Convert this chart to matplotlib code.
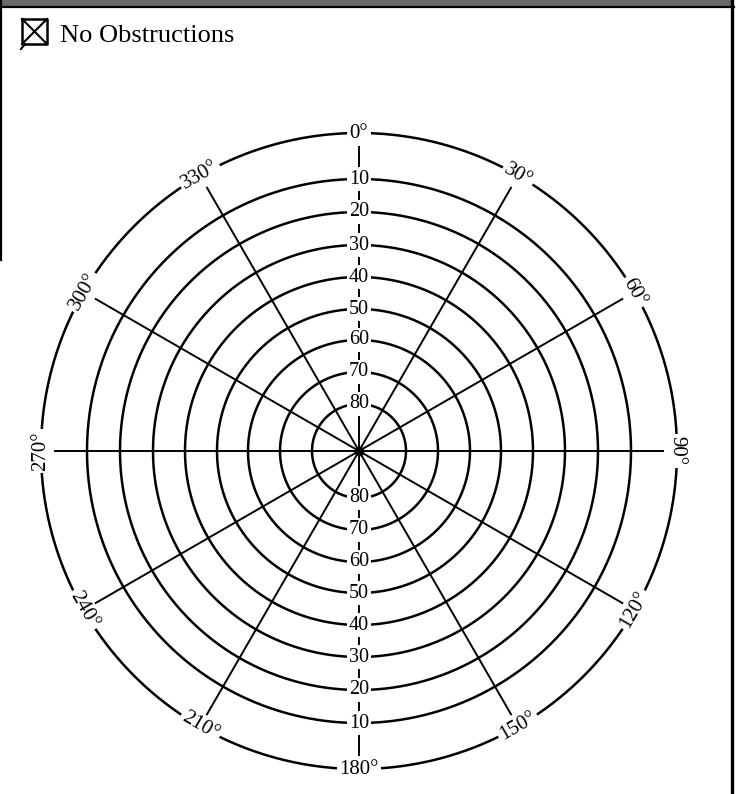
import numpy as np
import matplotlib
matplotlib.use("Agg")
import matplotlib.pyplot as plt

# ── Data ────────────────────────────────────────────────────────────────────
azimuths = [0, 30, 60, 90, 120, 150, 180, 210, 240, 270, 300, 330]
az_labels = [f"{a}°" for a in azimuths]
elevations = [80, 70, 60, 50, 40, 30, 20, 10]
ring_radius = [47, 79, 111, 142, 174, 206, 239, 272]   # radius of each elevation ring
outer_radius = 318                                     # horizon ring (0°)
spoke_radius = 304
legend_text = "No Obstructions"

W, H = 744, 794
CX, CY = 359, 451          # centre of the plot in pixels
RMAX = 335

plt.rcParams['font.family'] = ['Liberation Serif', 'DejaVu Serif']

fig = plt.figure(figsize=(W / 100, H / 100), dpi=100)

# page overlay (frame, check box, caption)
page = fig.add_axes([0, 0, 1, 1])
page.set_xlim(0, W)
page.set_ylim(H, 0)
page.axis("off")
page.fill_between([0, W - 10], 0, 6, color="#6a6a6a", lw=0)
page.plot([0, W - 10], [6.5, 6.5], color="black", lw=1.6)
page.plot([731.5, 731.5], [0, H], color="black", lw=2.4)
page.plot([1, 1], [0, 260], color="black", lw=1.6)

# check box with a cross
bx0, by0, bs = 22, 19, 25
page.plot([bx0, bx0 + bs, bx0 + bs, bx0, bx0], [by0, by0, by0 + bs, by0 + bs, by0],
          color="black", lw=1.8)
page.plot([bx0, bx0 + bs], [by0, by0 + bs], color="black", lw=1.5)
page.plot([bx0, bx0 + bs], [by0 + bs, by0], color="black", lw=1.5)
page.plot([bx0 + 3, bx0 - 1], [by0 + bs, by0 + bs + 5], color="black", lw=1.5)
page.text(60, 36, legend_text, fontsize=19, va="center", ha="left")

# polar sky plot, one data unit = one pixel
ax = fig.add_axes([(CX - RMAX) / W, (H - CY - RMAX) / H, 2 * RMAX / W, 2 * RMAX / H],
                  projection="polar")
ax.set_theta_zero_location("N")
ax.set_theta_direction(-1)
ax.set_rlim(0, RMAX)
ax.axis("off")

theta = np.linspace(0, 2 * np.pi, 721)
for r in ring_radius:
    ax.plot(theta, np.full_like(theta, r), color="black", lw=1.8, zorder=2)
ax.plot(theta, np.full_like(theta, outer_radius), color="black", lw=1.8, zorder=2)

for a in azimuths:
    t = np.deg2rad(a)
    ax.plot([t, t], [0, spoke_radius], color="black", lw=1.4, zorder=2)
ax.plot([0], [0], marker="o", ms=6, color="black", zorder=3)

box = dict(boxstyle="square,pad=0.12", fc="white", ec="none")

# elevation labels along the north and south spokes
for el, r in zip(elevations, ring_radius):
    for a in (0, 180):
        ax.text(np.deg2rad(a), r, str(el), fontsize=14.5, ha="center", va="center",
                bbox=box, zorder=4)

# azimuth labels on the horizon ring, written along the ring
for a, lab in zip(azimuths, az_labels):
    if 90 < a < 270:
        rot = 180 - a
    elif a <= 90:
        rot = -a
    else:
        rot = 360 - a
    ax.text(np.deg2rad(a), outer_radius, lab, fontsize=15, ha="center", va="center",
            rotation=rot, rotation_mode="anchor", bbox=box, zorder=4)

fig.savefig("out.png", dpi=100)
